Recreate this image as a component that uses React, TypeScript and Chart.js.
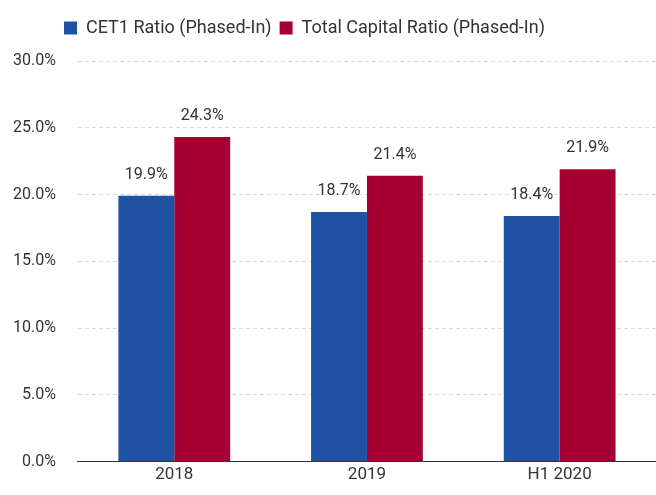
import React, { useEffect, useRef } from "react";
import { Chart, registerables } from "chart.js";

Chart.register(...registerables);

const categories = ["2018", "2019", "H1 2020"];
const cet1Values = [19.9, 18.7, 18.4];
const totalCapitalValues = [24.3, 21.4, 21.9];
const seriesNames = ["CET1 Ratio (Phased-In)", "Total Capital Ratio (Phased-In)"];

const FONT = "Roboto, 'Liberation Sans', sans-serif";

const labelPlugin = {
  id: "barLabels",
  afterDatasetsDraw(chart: any) {
    const ctx = chart.ctx;
    ctx.save();
    ctx.font = `16px ${FONT}`;
    ctx.fillStyle = "#333333";
    ctx.textAlign = "center";
    ctx.textBaseline = "bottom";
    chart.data.datasets.forEach((ds: any, i: number) => {
      const meta = chart.getDatasetMeta(i);
      meta.data.forEach((el: any, j: number) => {
        ctx.fillText(ds.data[j].toFixed(1) + "%", el.x, el.y - 13);
      });
    });
    ctx.restore();
  },
};

const legendSpacing = {
  id: "legendSpacing",
  beforeInit(chart: any) {
    const legend = chart.legend;
    if (!legend) return;
    const origFit = legend.fit;
    legend.fit = function () {
      origFit.bind(legend)();
      this.height += 14;
    };
  },
  afterLayout(chart: any) {
    if (chart.legend) chart.legend.left = 56;
  },
};

export default function App() {
  const ref = useRef<HTMLCanvasElement>(null);
  useEffect(() => {
    if (!ref.current) return;
    const chart = new Chart(ref.current, {
      type: "bar",
      data: {
        labels: categories,
        datasets: [
          { label: seriesNames[0], data: cet1Values, backgroundColor: "#1f52a3" },
          { label: seriesNames[1], data: totalCapitalValues, backgroundColor: "#a50034" },
        ],
      },
      options: {
        animation: false,
        responsive: false,
        maintainAspectRatio: false,
        layout: { padding: { left: -9, right: 0, top: 11, bottom: 7 } },
        datasets: { bar: { barPercentage: 1, categoryPercentage: 0.58 } } as any,
        plugins: {
          legend: {
            position: "top",
            align: "start",
            labels: {
              font: { family: FONT, size: 18 },
              color: "#333333",
              boxWidth: 13,
              boxHeight: 13,
              padding: 8,
            },
          },
          tooltip: { enabled: false },
        },
        scales: {
          x: {
            grid: { display: false, drawTicks: false },
            border: { display: true, color: "#333333", width: 1 },
            ticks: { font: { family: FONT, size: 17 }, color: "#333333", padding: 3 },
          },
          y: {
            min: 0,
            max: 30,
            ticks: {
              stepSize: 5,
              font: { family: FONT, size: 16 },
              color: "#333333",
              padding: 22,
              callback: (v: any) => Number(v).toFixed(1) + "%",
            },
            grid: { color: "#d9d9d9", drawTicks: false },
            border: { display: false, dash: [4, 3] },
          },
        },
      },
      plugins: [labelPlugin, legendSpacing],
    });
    return () => chart.destroy();
  }, []);
  return (
    <div style={{ position: "absolute", left: 0, top: 0, width: 656, height: 495, background: "#fff" }}>
      <canvas ref={ref} width={656} height={495} />
    </div>
  );
}
